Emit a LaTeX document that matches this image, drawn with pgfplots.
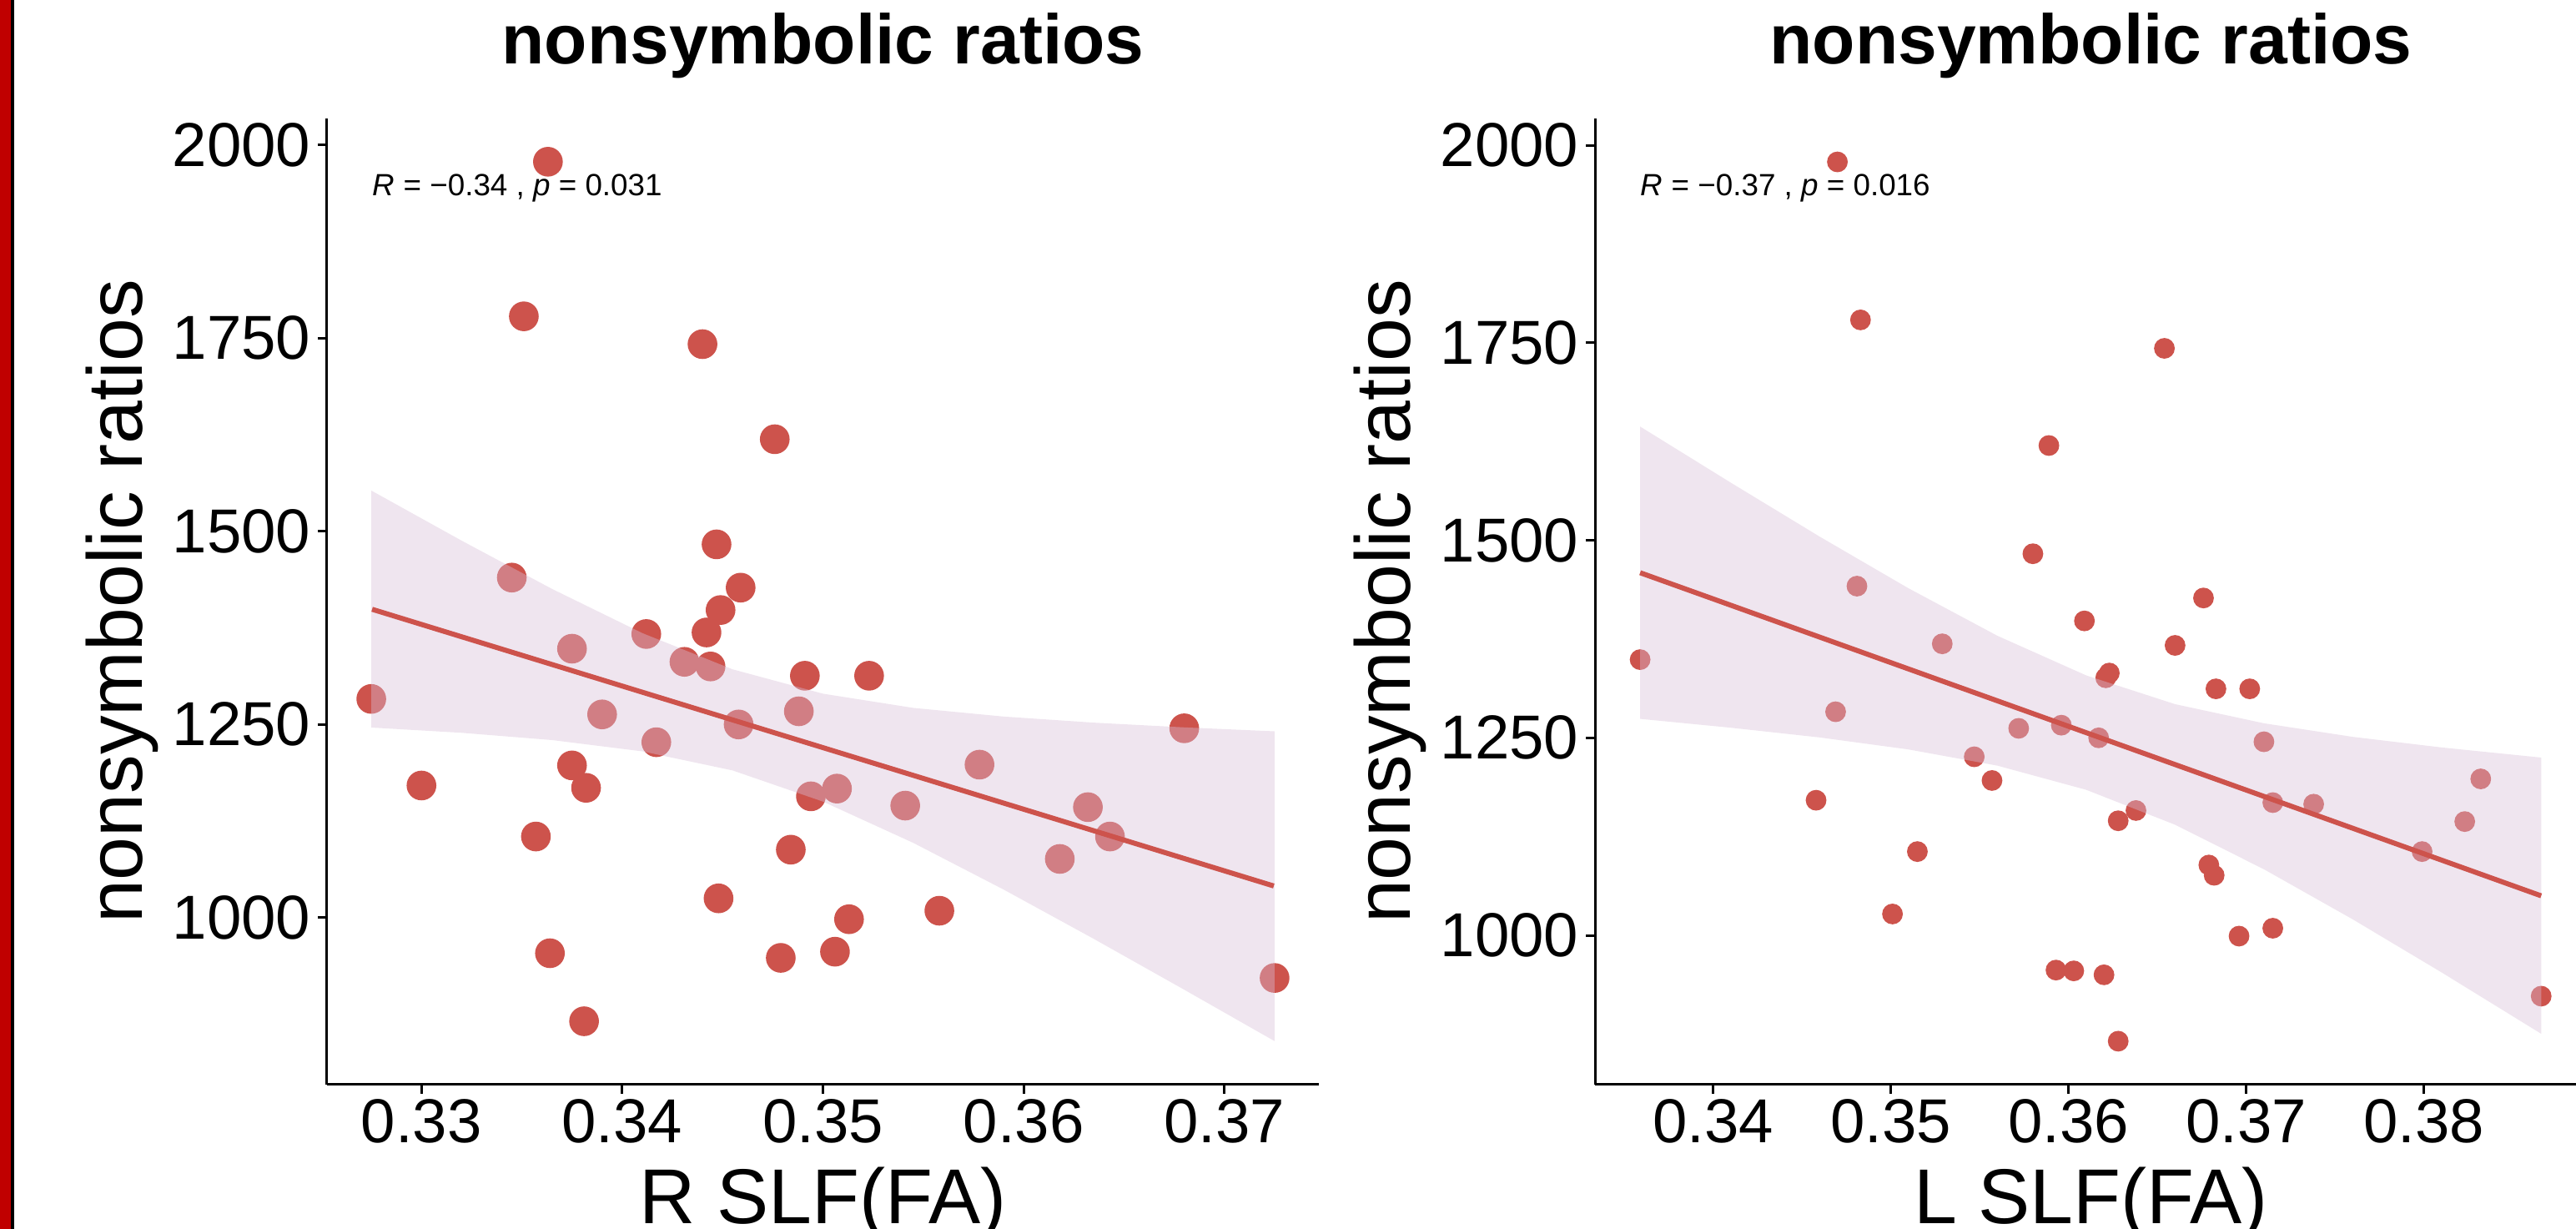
\documentclass[border=0pt]{standalone}
\usepackage{fontspec}
\setmainfont{Liberation Sans}
\usepackage{pgfplots}
\pgfplotsset{compat=1.18}

\definecolor{jcored}{HTML}{CD534C}
\definecolor{bandfill}{HTML}{D8BFD8}
\definecolor{edgered}{HTML}{C00000}

% one px of the reference = 0.25pt
\pgfplotsset{
  slfpanel/.style={
    scale only axis, width=297.25pt, height=289.5pt,
    axis x line=bottom, axis y line=left,
    axis line style={-, line width=0.75pt},
    tick align=outside, major tick length=2.75pt,
    tick style={line width=0.75pt, black},
    ytick={1000,1250,1500,1750,2000},
    yticklabels={1000,1250,1500,1750,2000},
    tick label style={font=\fontsize{18.6}{20}\selectfont},
    xticklabel style={inner sep=1.5pt},
    yticklabel style={inner sep=2pt},
    /pgf/number format/assume math mode=true,
    label style={font=\fontsize{23.3}{26}\selectfont},
    xlabel style={at={(axis description cs:0.5,-0.1442)}, anchor=base},
    ylabel style={at={(axis description cs:-0.1859,0.5)}, anchor=base},
    title style={at={(axis description cs:0.5,1)}, anchor=base, yshift=10.25pt,
      font=\fontsize{21}{25}\selectfont\bfseries},
    title={nonsymbolic ratios},
    ylabel={nonsymbolic ratios},
    clip=false,
    clip marker paths=true, % draw dots in order, so the band lies over them
  },
  dots/.style={jcored, only marks, mark=*, mark size=#1,
    mark options={solid, draw=none, fill=jcored}},
}
\tikzset{cortext/.style={anchor=base west, inner sep=0pt, font=\fontsize{9.2}{11}\selectfont}}

\begin{document}
\begin{tikzpicture}
\useasboundingbox (0,0) rectangle (772pt,368.25pt);
\fill[edgered] (0,0) rectangle (3.17pt,368.25pt);
\fill[black] (3.17pt,0) rectangle (4.33pt,368.25pt);

% left panel: R SLF
\begin{axis}[slfpanel, at={(98pt,43.25pt)}, anchor=south west,
    xmin=0.325294, xmax=0.374706, ymin=784, ymax=2034,
    xtick={0.33,0.34,0.35,0.36,0.37},
    xticklabels={0.33,0.34,0.35,0.36,0.37},
    xlabel={R SLF(FA)}]
  \addplot[dots=4.25pt] coordinates {
    (0.3363,1978) (0.3351,1778) (0.3440,1742) (0.3476,1619) (0.3447,1483)
    (0.3345,1440) (0.3459,1427) (0.3449,1398) (0.3442,1369) (0.3412,1367)
    (0.3375,1348) (0.3431,1331) (0.3444,1325) (0.3491,1313) (0.3523,1313)
    (0.3275,1283) (0.3390,1263) (0.3488,1267) (0.3458,1250) (0.3417,1227)
    (0.3680,1245) (0.3375,1197) (0.3578,1198) (0.3300,1171) (0.3382,1168)
    (0.3507,1167) (0.3494,1157) (0.3541,1145) (0.3632,1143) (0.3643,1105)
    (0.3357,1105) (0.3618,1076) (0.3484,1088) (0.3448,1025) (0.3513,998)
    (0.3558,1009) (0.3364,954) (0.3479,948) (0.3506,956) (0.3381,866)
    (0.3725,922)};
  \addplot[draw=none, fill=bandfill, fill opacity=0.4] coordinates {
    (0.3275,1552.6) (0.3320,1487.8) (0.3365,1425.4) (0.3410,1368.2) (0.3455,1321.3)
    (0.3500,1289.8) (0.3545,1271.4) (0.3590,1260.2) (0.3635,1252.3) (0.3680,1246.2)
    (0.3725,1241.1)
    (0.3725,840.3) (0.3680,906.8) (0.3635,972.5) (0.3590,1036.4) (0.3545,1096.8)
    (0.3500,1150.2) (0.3455,1190.5) (0.3410,1215.2) (0.3365,1229.8) (0.3320,1239.2)
    (0.3275,1246.0)} -- cycle;
  \addplot[jcored, line width=1.5pt] coordinates {(0.32754,1399) (0.37246,1041)};
  \node[cortext] at (axis cs:0.32754,1934) {\textit{R} = −0.34 , \textit{p} = 0.031};
\end{axis}

% right panel: L SLF
\begin{axis}[slfpanel, at={(478pt,43.25pt)}, anchor=south west,
    xmin=0.33336, xmax=0.38917, ymin=811, ymax=2034,
    xtick={0.34,0.35,0.36,0.37,0.38},
    xticklabels={0.34,0.35,0.36,0.37,0.38},
    xlabel={L SLF(FA)}]
  \addplot[dots=2.9pt] coordinates {
    (0.3470,1979) (0.3483,1779) (0.3654,1743) (0.3589,1620) (0.3580,1483)
    (0.3481,1442) (0.3676,1427) (0.3609,1398) (0.3529,1369) (0.3660,1367)
    (0.3359,1349) (0.3623,1332) (0.3621,1326) (0.3683,1312) (0.3702,1312)
    (0.3469,1283) (0.3572,1262) (0.3596,1266) (0.3617,1250) (0.3547,1226)
    (0.3710,1245) (0.3557,1196) (0.3832,1198) (0.3458,1171) (0.3715,1168)
    (0.3738,1166) (0.3638,1158) (0.3628,1145) (0.3823,1144) (0.3799,1106)
    (0.3515,1106) (0.3682,1076) (0.3679,1089) (0.3501,1027) (0.3696,999)
    (0.3715,1009) (0.3593,956) (0.3603,955) (0.3620,950) (0.3628,866)
    (0.3866,923)};
  \addplot[draw=none, fill=bandfill, fill opacity=0.4] coordinates {
    (0.3359,1644) (0.3410,1573) (0.3460,1504.7) (0.3510,1439.3) (0.3560,1379.2)
    (0.3610,1329) (0.3660,1292.6) (0.3710,1268.4) (0.3760,1251.2) (0.3810,1237.8)
    (0.3866,1225)
    (0.3866,875.4) (0.3810,953) (0.3760,1020.2) (0.3710,1083.6) (0.3660,1140)
    (0.3610,1184.2) (0.3560,1214.8) (0.3510,1235.3) (0.3460,1250.5) (0.3410,1262.8)
    (0.3359,1274)} -- cycle;
  \addplot[jcored, line width=1.5pt] coordinates {(0.3359,1459) (0.3866,1050)};
  \node[cortext] at (axis cs:0.3359,1936) {\textit{R} = −0.37 , \textit{p} = 0.016};
\end{axis}
\end{tikzpicture}
\end{document}
